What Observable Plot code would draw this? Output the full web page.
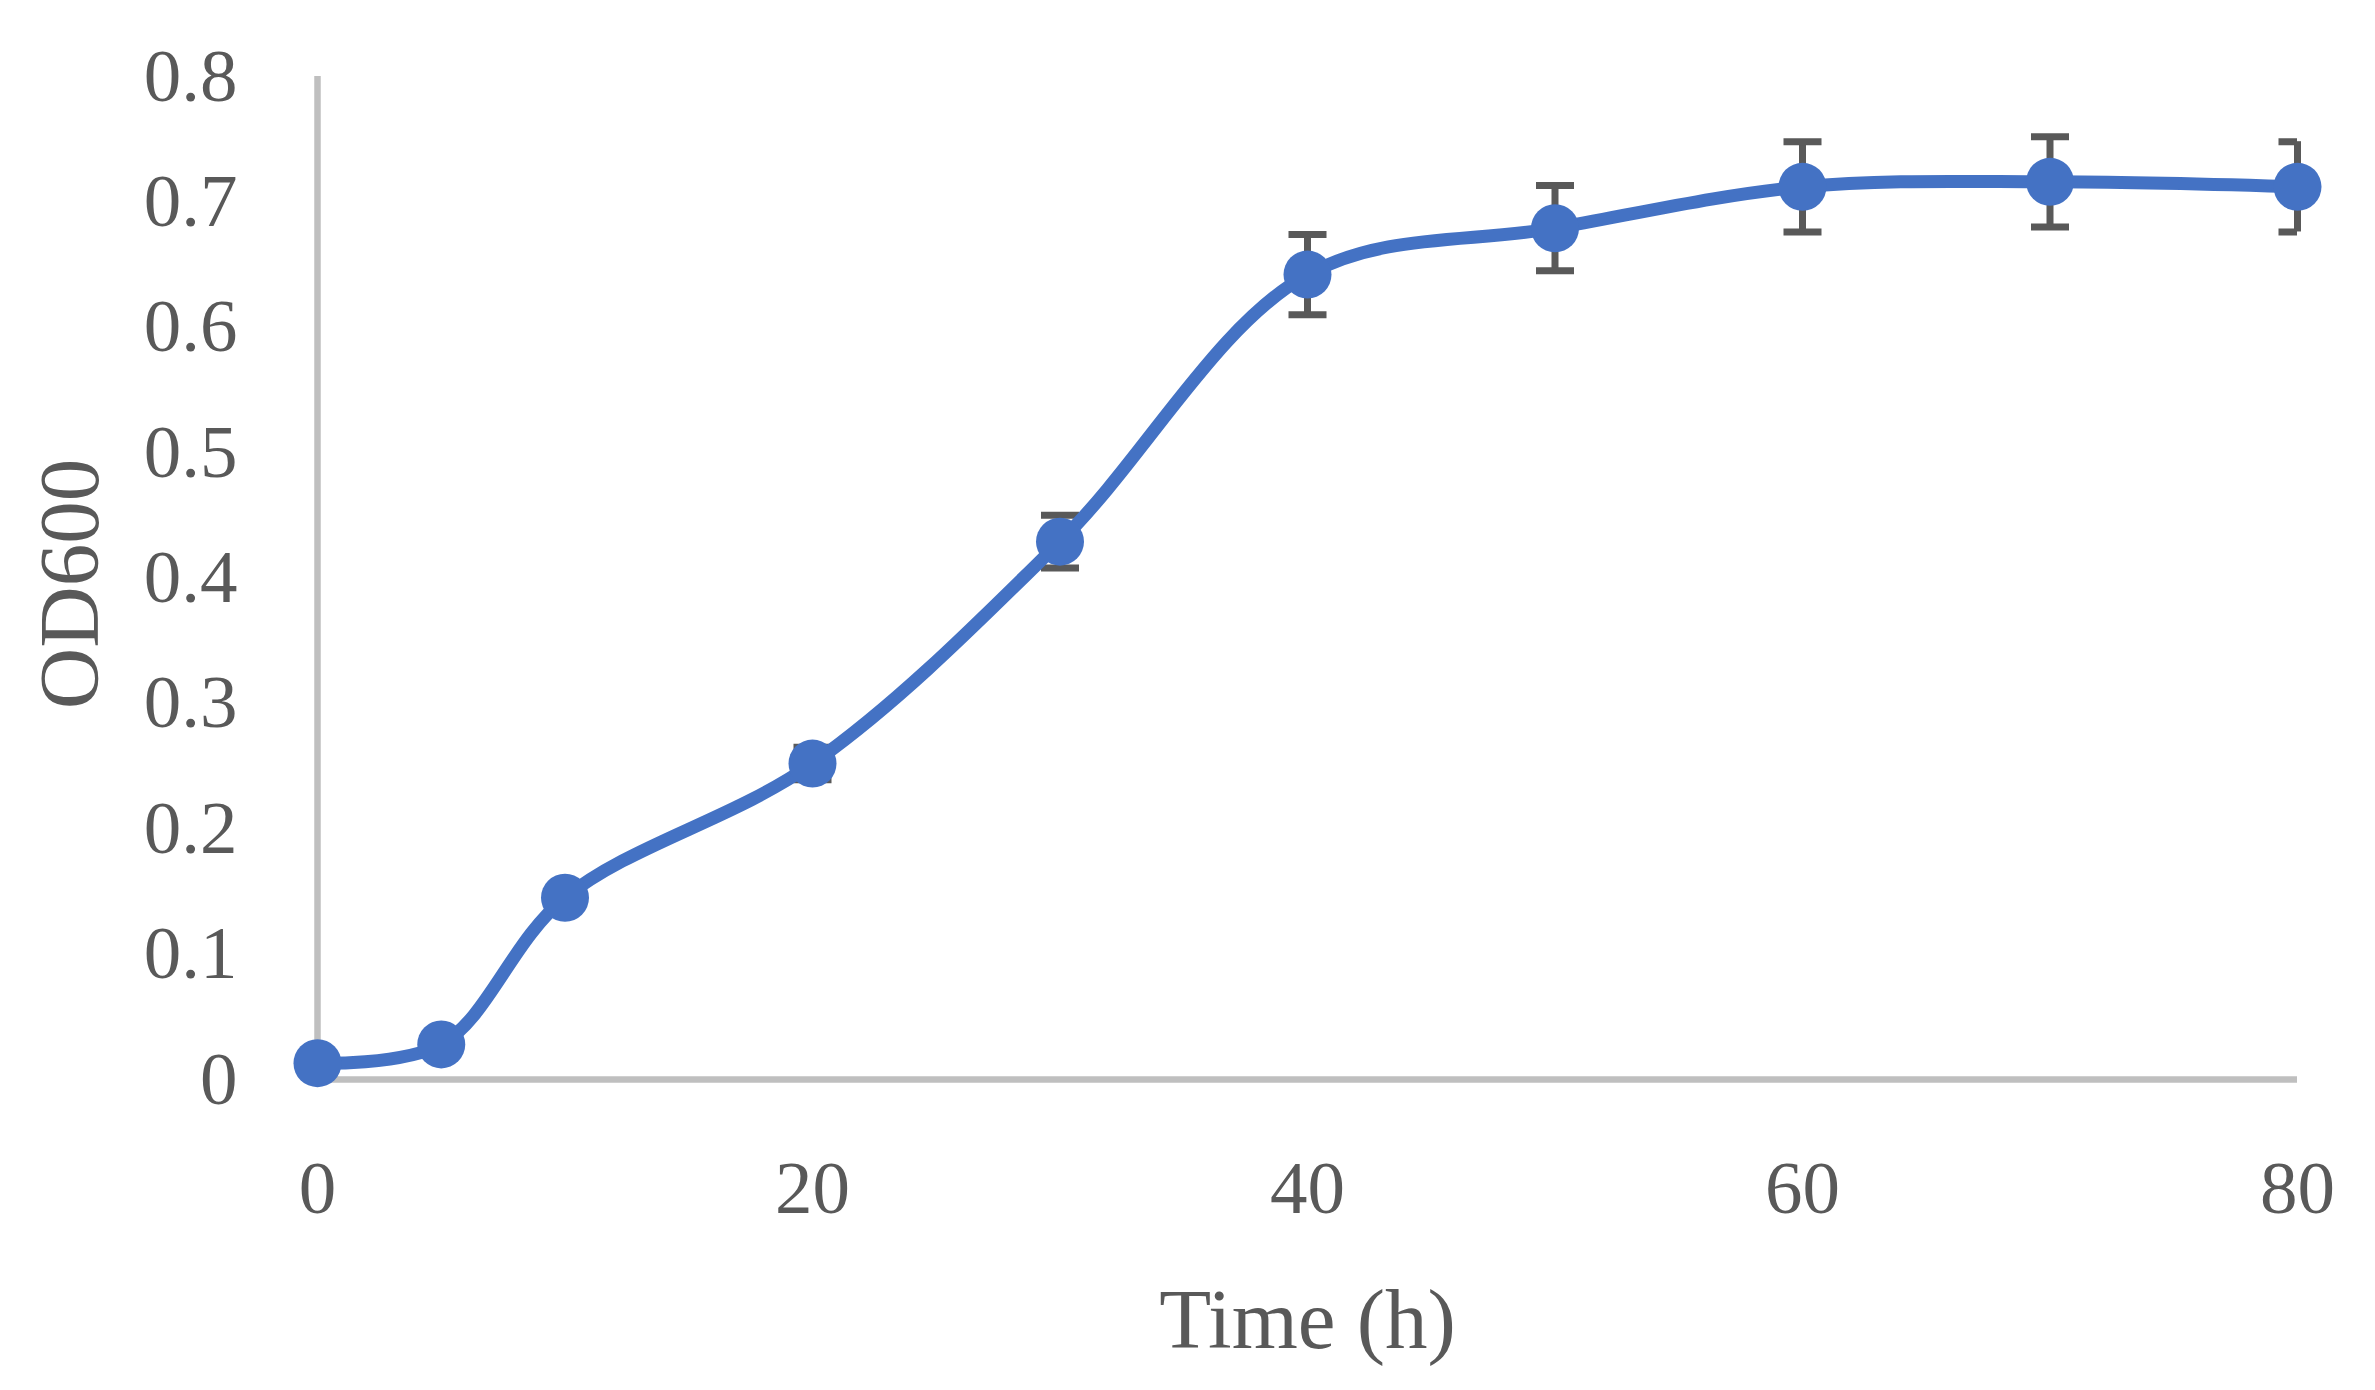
<!DOCTYPE html>
<html>
<head>
<meta charset="utf-8">
<script src="https://cdn.jsdelivr.net/npm/d3@7"></script>
<script src="https://cdn.jsdelivr.net/npm/@observablehq/plot@0.6"></script>
<style>
  html, body { margin: 0; padding: 0; background: #ffffff; }
  #chart svg { display: block; }
</style>
</head>
<body>
<div id="chart"></div>
<script>
// ---- data ----
const timeH   = [0, 5, 10, 20, 30, 40, 50, 60, 70, 80];
const od600   = [0.013, 0.028, 0.145, 0.252, 0.429, 0.642, 0.679, 0.712, 0.716, 0.712];
const errOD   = [0.003, 0.004, 0.006, 0.013, 0.021, 0.032, 0.034, 0.036, 0.036, 0.036];
const xTicks  = [0, 20, 40, 60, 80];
const yTicks  = [0, 0.1, 0.2, 0.3, 0.4, 0.5, 0.6, 0.7, 0.8];
const xTitle  = "Time (h)";
const yTitle  = "OD600";

const rows = timeH.map((t, i) => ({t, od: od600[i], lo: od600[i] - errOD[i], hi: od600[i] + errOD[i]}));

const BLUE = "#4472C4";
const TEXT = "#595959";
const AXIS = "#BFBFBF";
const FONT = "'Liberation Serif', 'Times New Roman', serif";

// horizontal bar symbol for error-bar caps
const capSymbol = {
  draw(ctx, size) {
    const r = Math.sqrt(size / Math.PI);
    ctx.moveTo(-r, 0);
    ctx.lineTo(r, 0);
  }
};

const chart = Plot.plot({
  width: 2375,
  height: 1390,
  marginLeft: 317,
  marginRight: 78,
  marginTop: 76,
  marginBottom: 311,
  style: {fontFamily: FONT, fontSize: "75px", color: TEXT, background: "#ffffff"},
  x: {domain: [0, 80]},
  y: {domain: [0, 0.8]},
  marks: [
    Plot.ruleX([0], {stroke: AXIS, strokeWidth: 6.5}),
    Plot.ruleY([0], {stroke: AXIS, strokeWidth: 6.5}),
    Plot.axisX({ticks: xTicks, tickSize: 0, tickPadding: 80, label: null, fill: TEXT, fontSize: 75, tickFormat: d => String(d)}),
    Plot.axisY({ticks: yTicks, tickSize: 0, tickPadding: 80, label: null, fill: TEXT, fontSize: 75, tickFormat: d => String(d)}),
    // error bars
    Plot.ruleX(rows, {x: "t", y1: "lo", y2: "hi", stroke: TEXT, strokeWidth: 7}),
    Plot.dot(rows, {x: "t", y: "hi", symbol: capSymbol, r: 19, fill: "none", stroke: TEXT, strokeWidth: 7, strokeLinecap: "butt", clip: true}),
    Plot.dot(rows, {x: "t", y: "lo", symbol: capSymbol, r: 19, fill: "none", stroke: TEXT, strokeWidth: 7, strokeLinecap: "butt", clip: true}),
    // smoothed line
    Plot.line(rows, {x: "t", y: "od", curve: "catmull-rom", stroke: BLUE, strokeWidth: 13, strokeLinejoin: "round", strokeLinecap: "round"}),
    Plot.dot(rows, {x: "t", y: "od", r: 24, fill: BLUE, stroke: "none"}),
    // axis titles
    Plot.text([xTitle], {text: d => d, frameAnchor: "bottom", dy: 268, lineAnchor: "bottom", fontSize: 85, fill: TEXT}),
    Plot.text([yTitle], {text: d => d, frameAnchor: "left", textAnchor: "middle", dx: -247, dy: 6, rotate: -90, lineAnchor: "middle", fontSize: 85, fill: TEXT})
  ]
});

document.getElementById("chart").appendChild(chart);
</script>
</body>
</html>
